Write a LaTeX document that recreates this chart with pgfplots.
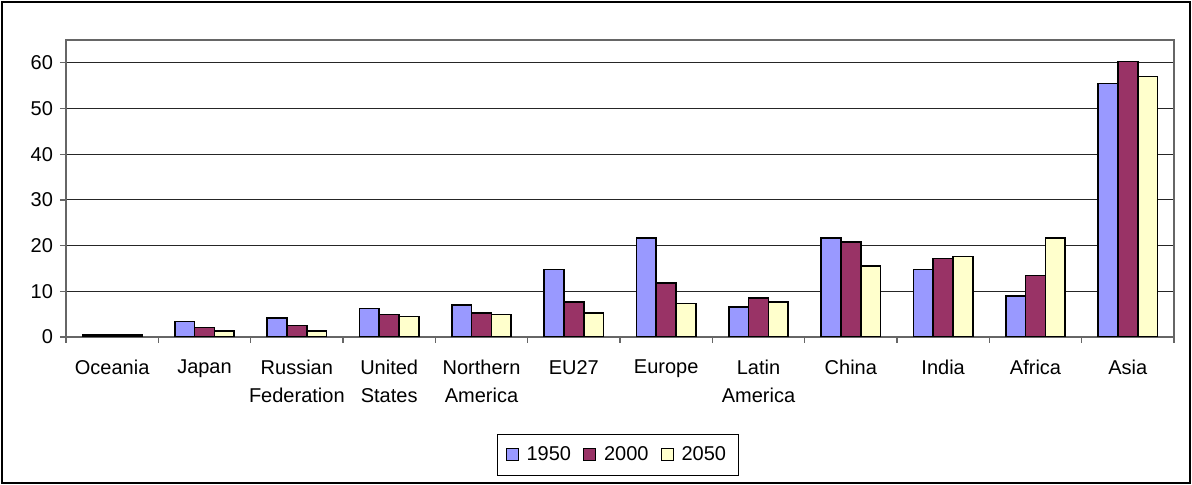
\documentclass[border=0pt]{standalone}
\usepackage{fontspec}
\setmainfont{Liberation Sans}
\usepackage{pgfplots}
\pgfplotsset{compat=1.18}
\definecolor{c1950}{HTML}{9999FF}
\definecolor{c2000}{HTML}{993366}
\definecolor{c2050}{HTML}{FFFFCC}
\begin{document}
\begin{tikzpicture}
\begin{axis}[
    at={(0,0)}, anchor=south west,
    scale only axis, width=554pt, height=148.5pt,
    ybar=0pt, bar width=0.215,
    xmin=-0.5, xmax=11.5, ymin=0, ymax=65,
    ytick={0,10,...,60},
    xtick={0,...,11},
    xtick pos=bottom, ytick pos=left,
    xticklabels={Oceania, Japan, {Russian\\Federation}, {United\\States}, {Northern\\America}, EU27, Europe, {Latin\\America}, China, India, Africa, Asia},
    xticklabel style={align=center, font={\fontsize{10}{14}\selectfont}, yshift=-5pt},
    yticklabel style={font={\fontsize{10}{12}\selectfont}},
    x tick style={draw=none},
    extra x ticks={-0.5,0.5,...,11.5},
    extra x tick labels={},
    extra x tick style={x tick style={draw=gray!80!black, line width=0.6pt}, major tick length=3pt, grid=none},
    tick align=outside, major tick length=3pt,
    y tick style={draw=gray!80!black, line width=0.6pt},
    ymajorgrids, grid style={black!85, line width=0.5pt},
    axis line style={draw=gray!80!black, line width=0.7pt},
    /pgf/number format/assume math mode=true,
    legend style={at={(0.498,-0.397)}, anchor=center, legend columns=-1,
        draw=black, line width=0.5pt, font={\fontsize{10}{12}\selectfont},
        inner xsep=4pt, inner ysep=4pt,
        /tikz/every odd column/.append style={column sep=2pt},
        /tikz/every even column/.append style={column sep=4pt}},
    legend image code/.code={\draw[#1, line width=0.5pt] (0pt,-3pt) rectangle (6pt,3pt);},
]
\addplot[fill=c1950, draw=black, line width=0.8pt] coordinates {(0,0.45) (1,3.35) (2,4.1) (3,6.2) (4,7.05) (5,14.8) (6,21.7) (7,6.6) (8,21.7) (9,14.8) (10,9.0) (11,55.5)};
\addplot[fill=c2000, draw=black, line width=0.8pt] coordinates {(0,0.45) (1,2.1) (2,2.55) (3,4.95) (4,5.3) (5,7.7) (6,11.8) (7,8.6) (8,20.8) (9,17.2) (10,13.5) (11,60.3)};
\addplot[fill=c2050, draw=black, line width=0.8pt] coordinates {(0,0.45) (1,1.3) (2,1.3) (3,4.5) (4,4.95) (5,5.3) (6,7.35) (7,7.7) (8,15.6) (9,17.6) (10,21.7) (11,57.0)};
\legend{1950,2000,2050}
\end{axis}
\draw[black, line width=0.8pt] (-32pt,-73pt) rectangle (562pt,167.5pt);
\useasboundingbox (-33pt,-74pt) rectangle (563pt,168.5pt);
\end{tikzpicture}
\end{document}
